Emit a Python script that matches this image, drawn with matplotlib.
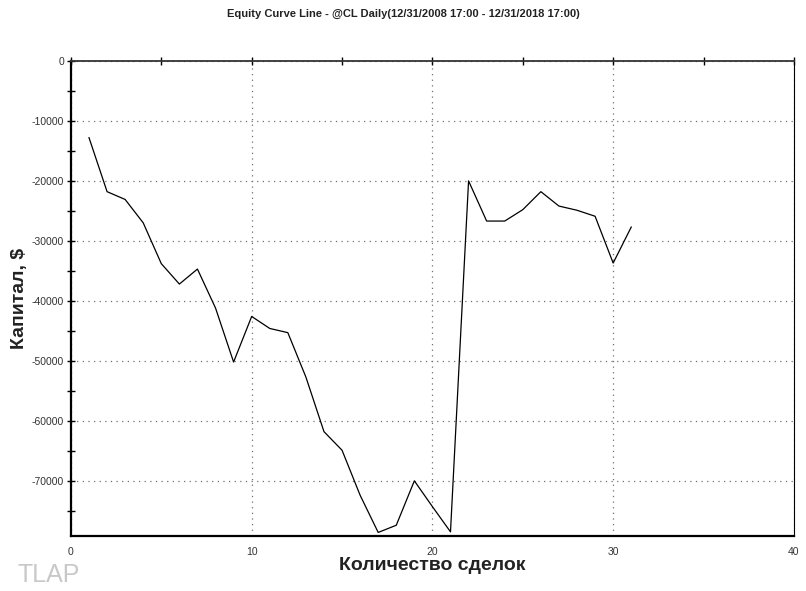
import matplotlib.pyplot as plt
from matplotlib.ticker import MultipleLocator

# trade number and equity (USD)
trades = list(range(1, 32))
equity = [-12800, -21800, -23100, -27000, -33800, -37200, -34700, -41200,
          -50200, -42600, -44600, -45300, -52700, -61800, -64900, -72400,
          -78600, -77400, -70000, -74300, -78500, -20000, -26700, -26700,
          -24800, -21800, -24200, -24900, -25900, -33700, -27700]

title = "Equity Curve Line - @CL Daily(12/31/2008 17:00 - 12/31/2018 17:00)"
xlabel = "Количество сделок"
ylabel = "Капитал, $"

plt.rcParams['font.family'] = ['Liberation Sans', 'DejaVu Sans']
plt.rcParams['axes.unicode_minus'] = False

fig = plt.figure(figsize=(8.06, 5.91), dpi=100)
ax = fig.add_axes([0.088, 0.093, 0.897, 0.804])

ax.plot(trades, equity, color="black", linewidth=0.9)

ax.set_xlim(0, 40)
ax.set_ylim(-79200, 0)

ax.xaxis.set_major_locator(MultipleLocator(10))
ax.yaxis.set_major_locator(MultipleLocator(10000))
ax.yaxis.set_minor_locator(MultipleLocator(5000))
ax.xaxis.set_minor_locator(MultipleLocator(5))

ax.grid(True, which="major", color="#707070", linestyle=(0, (1, 3.5)), linewidth=0.9)

# ticks on top axis and left axis, none on the bottom
ax.tick_params(axis="x", which="both", bottom=False, top=True, direction="inout",
               length=6, width=1, labelsize=7.5, labelcolor="#333333", pad=5)
ax.tick_params(axis="y", which="both", left=True, right=False, direction="inout",
               length=6, width=1, labelsize=7.5, labelcolor="#333333", pad=2)

for side in ["left", "bottom"]:
    ax.spines[side].set_linewidth(1.6)
ax.spines["top"].set_linewidth(1.3)
ax.spines["top"].set_color("#333333")
ax.spines["right"].set_linewidth(0.8)

ax.set_xlabel(xlabel, fontsize=14, fontweight="bold", color="#222222")
ax.xaxis.set_label_coords(0.5, -0.045)
ax.set_ylabel(ylabel, fontsize=14, fontweight="bold", color="#222222")
ax.yaxis.set_label_coords(-0.06, 0.5)

fig.text(0.5, 0.977, title, ha="center", va="center", fontsize=8,
         fontweight="bold", color="#222222",
         family=["Liberation Sans Narrow", "Liberation Sans", "DejaVu Sans"])

fig.text(0.022, 0.027, "TLAP", ha="left", va="center", fontsize=18, color="#c8c8c8")

fig.savefig("out.png", dpi=100)
